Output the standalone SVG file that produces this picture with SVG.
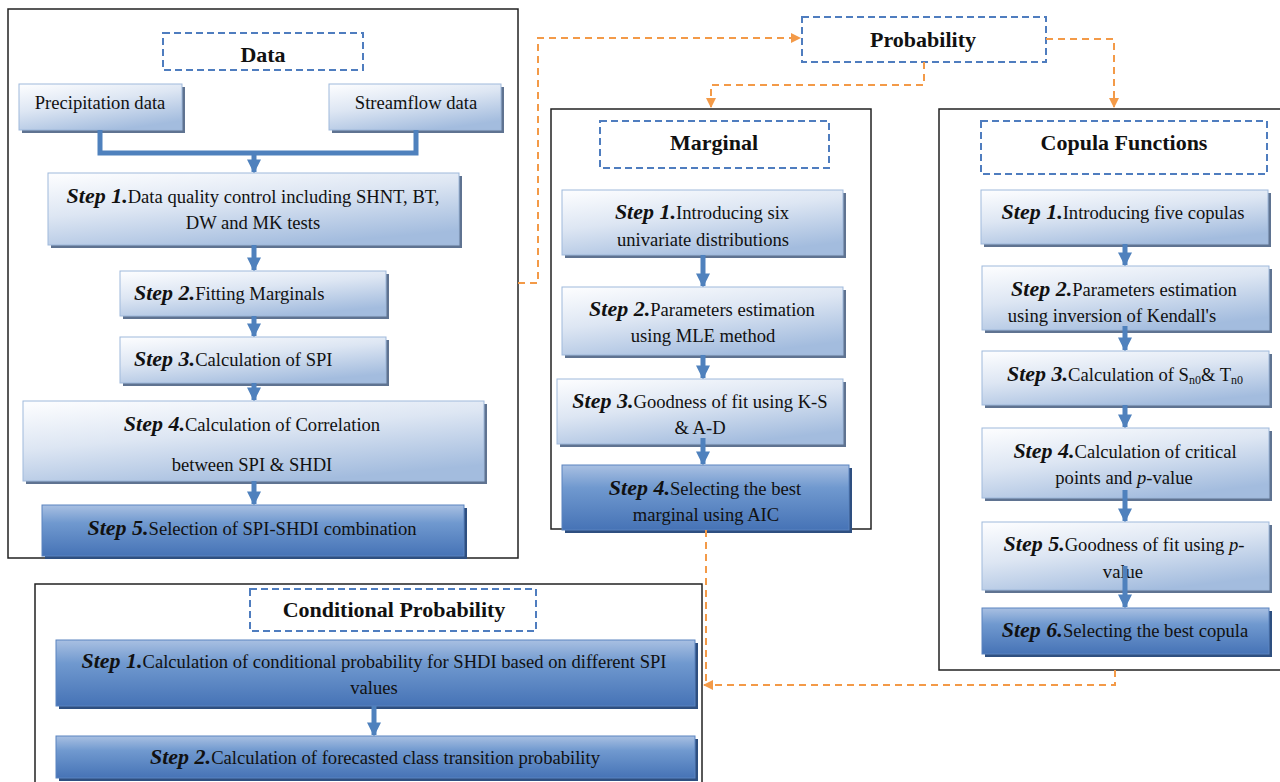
<svg xmlns="http://www.w3.org/2000/svg" width="1280" height="782" viewBox="0 0 1280 782">
<defs>
<linearGradient id="gl" x1="0.1" y1="0" x2="0.6" y2="1">
<stop offset="0" stop-color="#fbfcfe"/>
<stop offset="0.45" stop-color="#dde6f3"/>
<stop offset="1" stop-color="#a3bcde"/>
</linearGradient>
<linearGradient id="gd" x1="0" y1="0" x2="0" y2="1">
<stop offset="0" stop-color="#a9c0e2"/>
<stop offset="0.35" stop-color="#7099cf"/>
<stop offset="1" stop-color="#4673b6"/>
</linearGradient>
<marker id="ao" viewBox="0 0 10 10" refX="9" refY="5" markerWidth="5" markerHeight="5" orient="auto" markerUnits="strokeWidth">
<path d="M0,0 L10,5 L0,10 Z" fill="#f39a48"/>
</marker>
<marker id="ab" viewBox="0 0 10 10" refX="9" refY="5" markerWidth="2.8" markerHeight="2.8" orient="auto" markerUnits="strokeWidth">
<path d="M0,0 L10,5 L0,10 Z" fill="#4f81bd"/>
</marker>
</defs>
<style>
.outer{fill:#fff;stroke:#222;stroke-width:1.5}
.lbl{fill:#fff;stroke:#4f7dbf;stroke-width:2;stroke-dasharray:7 4}
.sh{fill:#5f7391}
.shd{fill:#2e4f80}
.lt{fill:url(#gl);stroke:#9fb9db;stroke-width:1}
.dk{fill:url(#gd);stroke:#5a84c0;stroke-width:1}
text{font-family:'Liberation Serif','Times New Roman',serif;font-size:18.6px;fill:#111;text-anchor:middle}
.h{font-weight:bold;font-size:22px}
.s{font-weight:bold;font-style:italic;font-size:22px}
.sub{font-size:12px}
.or{fill:none;stroke:#f39a48;stroke-width:2;stroke-dasharray:7 5}
.bl{fill:none;stroke:#4f81bd;stroke-width:5}
</style>

<g id="data">
<rect class="outer" x="8" y="9" width="510" height="549"/>
<rect class="lbl" x="163" y="33" width="200" height="37"/>
<text class="h" x="263" y="62">Data</text>
</g>

<g id="precip">
<rect class="sh" x="22" y="87" width="163" height="46"/>
<rect class="lt" x="19" y="84" width="163" height="46"/>
<text x="100" y="109">Precipitation data</text>
</g>
<g id="streamflow">
<rect class="sh" x="332" y="87" width="172" height="46"/>
<rect class="lt" x="329" y="84" width="172" height="46"/>
<text x="416" y="109">Streamflow data</text>
</g>

<g id="d1">
<rect class="sh" x="51" y="176" width="411" height="72"/>
<rect class="lt" x="48" y="173" width="411" height="72"/>
<text x="253" y="203"><tspan class="s">Step 1.</tspan>Data quality control including SHNT, BT,</text>
<text x="253" y="229">DW and MK tests</text>
</g>
<g id="d2">
<rect class="sh" x="123" y="274" width="266" height="45"/>
<rect class="lt" x="120" y="271" width="266" height="45"/>
<text x="134" y="300" style="text-anchor:start"><tspan class="s">Step 2.</tspan>Fitting Marginals</text>
</g>
<g id="d3">
<rect class="sh" x="123" y="340" width="266" height="46"/>
<rect class="lt" x="120" y="337" width="266" height="46"/>
<text x="134" y="366" style="text-anchor:start"><tspan class="s">Step 3.</tspan>Calculation of SPI</text>
</g>
<g id="d4">
<rect class="sh" x="26" y="404" width="461" height="80"/>
<rect class="lt" x="23" y="401" width="461" height="80"/>
<text x="252" y="431"><tspan class="s">Step 4.</tspan>Calculation of Correlation</text>
<text x="252" y="471">between SPI &amp; SHDI</text>
</g>
<g id="d5">
<rect class="shd" x="45" y="508" width="422" height="51"/>
<rect class="dk" x="42" y="505" width="422" height="51"/>
<text x="252" y="535"><tspan class="s">Step 5.</tspan>Selection of SPI-SHDI combination</text>
</g>

<g id="probability">
<rect class="lbl" x="802" y="17" width="244" height="45"/>
<text class="h" x="923" y="47">Probability</text>
</g>

<g id="marginal">
<rect class="outer" x="551" y="109" width="320" height="420"/>
<rect class="lbl" x="600" y="121" width="229" height="47"/>
<text class="h" x="714" y="150">Marginal</text>
</g>
<g id="m1">
<rect class="sh" x="565" y="193" width="281" height="65"/>
<rect class="lt" x="562" y="190" width="281" height="65"/>
<text x="702" y="219"><tspan class="s">Step 1.</tspan>Introducing six</text>
<text x="703" y="246">univariate distributions</text>
</g>
<g id="m2">
<rect class="sh" x="565" y="290" width="281" height="68"/>
<rect class="lt" x="562" y="287" width="281" height="68"/>
<text x="702" y="316"><tspan class="s">Step 2.</tspan>Parameters estimation</text>
<text x="703" y="342">using MLE method</text>
</g>
<g id="m3">
<rect class="sh" x="560" y="382" width="286" height="65"/>
<rect class="lt" x="557" y="379" width="286" height="65"/>
<text x="700" y="408"><tspan class="s">Step 3.</tspan>Goodness of fit using K-S</text>
<text x="700" y="434">&amp; A-D</text>
</g>
<g id="m4">
<rect class="shd" x="565" y="468" width="287" height="65"/>
<rect class="dk" x="562" y="465" width="287" height="65"/>
<text x="705" y="495"><tspan class="s">Step 4.</tspan>Selecting the best</text>
<text x="706" y="521">marginal using AIC</text>
</g>

<g id="copula">
<rect class="outer" x="939" y="109" width="345" height="561"/>
<rect class="lbl" x="981" y="121" width="286" height="53"/>
<text class="h" x="1124" y="150">Copula Functions</text>
</g>
<g id="c1">
<rect class="sh" x="984" y="193" width="287" height="54"/>
<rect class="lt" x="981" y="190" width="287" height="54"/>
<text x="1123" y="219"><tspan class="s">Step 1.</tspan>Introducing five copulas</text>
</g>
<g id="c2">
<rect class="sh" x="985" y="269" width="287" height="64"/>
<rect class="lt" x="982" y="266" width="287" height="64"/>
<text x="1124" y="296"><tspan class="s">Step 2.</tspan>Parameters estimation</text>
<text x="1112" y="322">using inversion of Kendall's</text>
</g>
<g id="c3">
<rect class="sh" x="985" y="354" width="287" height="54"/>
<rect class="lt" x="982" y="351" width="287" height="54"/>
<text x="1125" y="381"><tspan class="s">Step 3.</tspan>Calculation of S<tspan class="sub" dy="3">n0</tspan><tspan dy="-3">&amp; T</tspan><tspan class="sub" dy="3">n0</tspan></text>
</g>
<g id="c4">
<rect class="sh" x="985" y="431" width="287" height="70"/>
<rect class="lt" x="982" y="428" width="287" height="70"/>
<text x="1125" y="458"><tspan class="s">Step 4.</tspan>Calculation of critical</text>
<text x="1124" y="484">points and <tspan font-style="italic">p</tspan>-value</text>
</g>
<g id="c5">
<rect class="sh" x="985" y="525" width="287" height="68"/>
<rect class="lt" x="982" y="522" width="287" height="68"/>
<text x="1124" y="551"><tspan class="s">Step 5.</tspan>Goodness of fit using <tspan font-style="italic">p</tspan>-</text>
<text x="1123" y="578">value</text>
</g>
<g id="c6">
<rect class="shd" x="985" y="611" width="287" height="46"/>
<rect class="dk" x="982" y="608" width="287" height="46"/>
<text x="1125" y="637"><tspan class="s">Step 6.</tspan>Selecting the best copula</text>
</g>

<g id="conditional">
<rect class="outer" x="35" y="584" width="667" height="200"/>
<rect class="lbl" x="250" y="589" width="286" height="42"/>
<text class="h" x="394" y="617">Conditional Probability</text>
</g>
<g id="cp1">
<rect class="shd" x="59" y="643" width="639" height="66"/>
<rect class="dk" x="56" y="640" width="639" height="66"/>
<text x="374" y="668" textLength="585" lengthAdjust="spacingAndGlyphs"><tspan class="s">Step 1.</tspan>Calculation of conditional probability for SHDI based on different SPI</text>
<text x="374" y="694">values</text>
</g>
<g id="cp2">
<rect class="shd" x="59" y="739" width="639" height="42"/>
<rect class="dk" x="56" y="736" width="639" height="42"/>
<text x="375" y="764" textLength="450" lengthAdjust="spacingAndGlyphs"><tspan class="s">Step 2.</tspan>Calculation of forecasted class transition probability</text>
</g>

<g id="connectors">
<path class="bl" d="M100,130 V153 H416 V130" style="stroke-linejoin:miter"/>
<path class="bl" d="M254,153 V172" marker-end="url(#ab)"/>
<path class="bl" d="M254,245 V270" marker-end="url(#ab)"/>
<path class="bl" d="M254,316 V336" marker-end="url(#ab)"/>
<path class="bl" d="M254,383 V400" marker-end="url(#ab)"/>
<path class="bl" d="M254,481 V504" marker-end="url(#ab)"/>
<path class="bl" d="M703,255 V286" marker-end="url(#ab)"/>
<path class="bl" d="M703,355 V378" marker-end="url(#ab)"/>
<path class="bl" d="M703,438 V464" marker-end="url(#ab)"/>
<path class="bl" d="M1125,244 V265" marker-end="url(#ab)"/>
<path class="bl" d="M1125,326 V350" marker-end="url(#ab)"/>
<path class="bl" d="M1125,405 V427" marker-end="url(#ab)"/>
<path class="bl" d="M1125,490 V521" marker-end="url(#ab)"/>
<path class="bl" d="M1125,566 V607" marker-end="url(#ab)"/>
<path class="bl" d="M374,706 V735" marker-end="url(#ab)"/>
<path class="or" d="M518,283 H538 V38 H800" marker-end="url(#ao)"/>
<path class="or" d="M924,62 V85 H711 V107" marker-end="url(#ao)"/>
<path class="or" d="M1046,39 H1114 V107" marker-end="url(#ao)"/>
<path class="or" d="M706,530 V685"/>
<path class="or" d="M1115,670 V685 H704" marker-end="url(#ao)"/>
</g>
</svg>
